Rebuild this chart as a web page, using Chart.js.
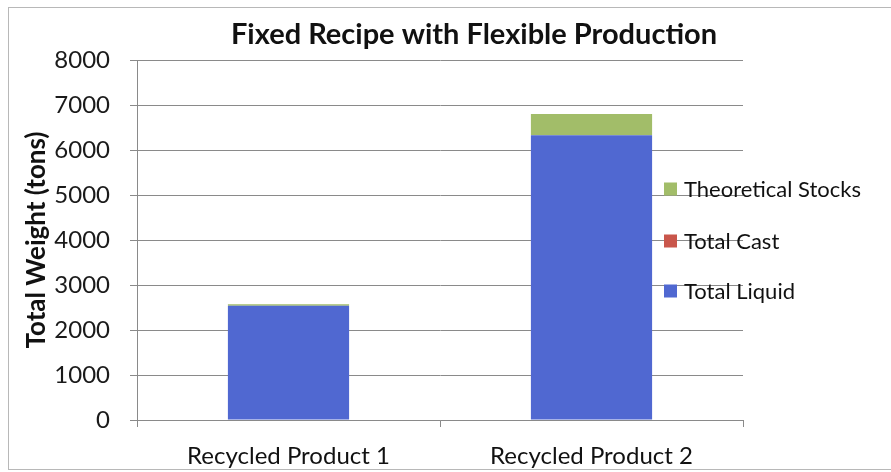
<!DOCTYPE html>
<html>
<head>
<meta charset="utf-8">
<script src="https://cdn.jsdelivr.net/npm/chart.js@4.4.1/dist/chart.umd.min.js"></script>
<style>
  html,body{margin:0;padding:0;background:#fff;}
  #wrap{width:891px;height:472px;position:relative;}
</style>
</head>
<body>
<div id="wrap"><canvas id="c" width="891" height="472"></canvas></div>
<script>
const categories = ["Recycled Product 1", "Recycled Product 2"];
const totalLiquid = [2540, 6330];
const totalCast = [0, 0];
const theoreticalStocks = [30, 470];
const yTicks = [0, 1000, 2000, 3000, 4000, 5000, 6000, 7000, 8000];
const chartTitle = "Fixed Recipe with Flexible Production";
const yAxisTitle = "Total Weight (tons)";

const FONT = "Lato, 'Open Sans', sans-serif";

const framePlugin = {
  id: 'frame',
  beforeDraw(chart) {
    const ctx = chart.ctx;
    ctx.save();
    ctx.fillStyle = '#fff';
    ctx.fillRect(0, 0, chart.width, chart.height);
    ctx.strokeStyle = '#b8b8b8';
    ctx.lineWidth = 1;
    ctx.strokeRect(8.5, 7.5, 900, 462);
    ctx.restore();
  },
  afterDraw(chart) {
    const ctx = chart.ctx;
    ctx.save();
    // title
    ctx.fillStyle = '#111';
    ctx.font = "bold 29px " + FONT;
    ctx.textAlign = 'center';
    ctx.textBaseline = 'middle';
    ctx.fillText(chartTitle, 474, 35);
    // legend (reversed order)
    const ds = chart.data.datasets.slice().reverse();
    const ys = [189, 241, 291];
    ctx.font = "22px " + FONT;
    ctx.textAlign = 'left';
    ds.forEach((d, i) => {
      ctx.fillStyle = d.backgroundColor;
      ctx.fillRect(664, ys[i] - 6.5, 13, 13);
      ctx.fillStyle = '#111';
      ctx.fillText(d.label, 684, ys[i] + 1);
    });
    ctx.restore();
  }
};

new Chart(document.getElementById('c'), {
  type: 'bar',
  data: {
    labels: categories,
    datasets: [
      { label: 'Total Liquid', data: totalLiquid, backgroundColor: '#5068d1' },
      { label: 'Total Cast', data: totalCast, backgroundColor: '#c9564b' },
      { label: 'Theoretical Stocks', data: theoreticalStocks, backgroundColor: '#a2bd69' }
    ]
  },
  options: {
    responsive: false,
    animation: false,
    devicePixelRatio: 1,
    layout: { padding: { top: 60, right: 148, left: 0, bottom: 0 } },
    datasets: { bar: { barPercentage: 0.4, categoryPercentage: 1.0, borderWidth: 0 } },
    plugins: { legend: { display: false }, title: { display: false }, tooltip: { enabled: false } },
    scales: {
      x: {
        stacked: true,
        afterFit(s) { s.height = 52; },
        grid: { display: true, drawOnChartArea: false, offset: true, tickLength: 7, color: '#8a8a8a' },
        border: { display: true, color: '#8a8a8a', width: 1 },
        ticks: { color: '#111', font: { family: FONT, size: 24 }, padding: 15, maxRotation: 0 }
      },
      y: {
        stacked: true,
        min: 0, max: 8000,
        afterFit(s) { s.width = 137; },
        afterBuildTicks(s) { s.ticks = yTicks.map(v => ({ value: v })); },
        grid: { color: '#8a8a8a', tickLength: 7, lineWidth: 1 },
        border: { display: true, color: '#8a8a8a', width: 1 },
        ticks: { color: '#1a1a1a', font: { family: FONT, size: 24 }, padding: 20, callback: v => String(v) },
        title: { display: true, text: yAxisTitle, color: '#111', font: { family: FONT, size: 26, weight: 'bold' }, padding: { top: 21, bottom: 0 } }
      }
    }
  },
  plugins: [framePlugin]
});
</script>
</body>
</html>
